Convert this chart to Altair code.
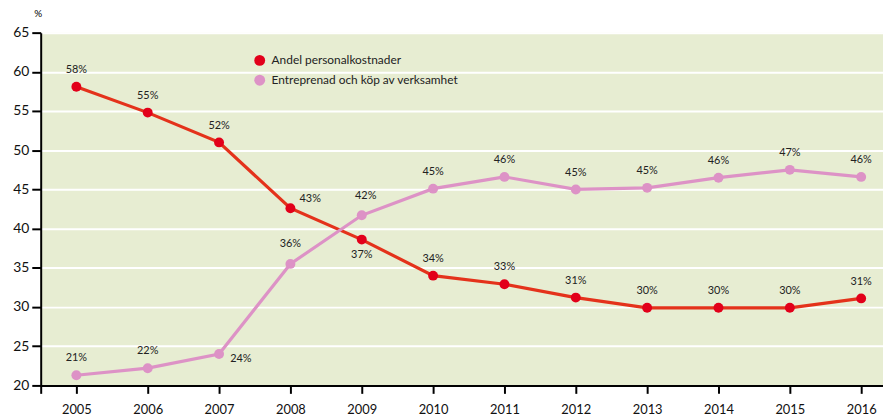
import altair as alt
import pandas as pd

years = [2005, 2006, 2007, 2008, 2009, 2010, 2011, 2012, 2013, 2014, 2015, 2016]
personal = [58.1, 54.8, 51.0, 42.6, 38.6, 34.0, 32.9, 31.2, 29.9, 29.9, 29.9, 31.1]
entreprenad = [21.3, 22.2, 24.0, 35.5, 41.7, 45.1, 46.6, 45.0, 45.2, 46.5, 47.5, 46.6]
personal_labels = ["58%", "55%", "52%", "43%", "37%", "34%", "33%", "31%", "30%", "30%", "30%", "31%"]
entreprenad_labels = ["21%", "22%", "24%", "36%", "42%", "45%", "46%", "45%", "45%", "46%", "47%", "46%"]
series_names = ["Andel personalkostnader", "Entreprenad och köp av verksamhet"]
x_tick_values = [2004.5, 2005.0, 2006.0, 2007.0, 2008.0, 2009.0, 2010.0, 2011.0, 2012.0, 2013.0, 2014.0, 2015.0, 2016.0]
y_tick_values = [20, 25, 30, 35, 40, 45, 50, 55, 60, 65]

rows = []
for i, y in enumerate(years):
    rows.append({"year": y, "value": personal[i], "label": personal_labels[i], "series": series_names[0], "key": f"p{y}"})
    rows.append({"year": y, "value": entreprenad[i], "label": entreprenad_labels[i], "series": series_names[1], "key": f"e{y}"})
df = pd.DataFrame(rows)

RED_LINE = "#e4321b"
RED_DOT = "#e2001a"
PINK = "#dd92c6"

x_axis = alt.Axis(values=x_tick_values,
                  labelExpr="datum.value == 2004.5 ? '' : format(datum.value, 'd')",
                  labelOverlap=False, labelBound=False, labelFlush=False,
                  title=None, grid=False, domainColor="black", domainWidth=2,
                  tickColor="black", tickWidth=2, tickSize=8,
                  labelFontSize=13, labelColor="#111", labelPadding=10,
                  labelFont="Lato")
y_axis = alt.Axis(values=y_tick_values, title="%", titleAngle=0,
                  labelOverlap=False,
                  titleX=-3, titleY=-14, titleFontSize=10, titleFontWeight="normal",
                  titleFont="Lato", titleAlign="center",
                  grid=True, gridColor="white", gridWidth=2,
                  domainColor="black", domainWidth=2,
                  tickColor="black", tickWidth=2, tickSize=9,
                  labelFontSize=14, labelColor="#111", labelPadding=3,
                  labelFont="Lato")
x_scale = alt.Scale(domain=[2004.5, 2016.306], nice=False, zero=False)
y_scale = alt.Scale(domain=[20, 65], nice=False, zero=False)


def xe():
    return alt.X("year:Q", scale=x_scale, axis=x_axis)


def ye():
    return alt.Y("value:Q", scale=y_scale, axis=y_axis)


base = alt.Chart(df)

lines = base.mark_line(strokeWidth=3.2).encode(
    x=xe(), y=ye(),
    color=alt.Color("series:N", scale=alt.Scale(domain=series_names, range=[RED_LINE, PINK]), legend=None),
    detail="series:N",
)

points = base.mark_circle(size=100, opacity=1).transform_calculate(
    Serie="datum.series"
).encode(
    x=xe(), y=ye(),
    fill=alt.Fill("Serie:N", scale=alt.Scale(domain=series_names, range=[RED_DOT, PINK]),
                  legend=alt.Legend(title=None, orient="none", legendX=215, legendY=22,
                                    symbolType="circle", symbolSize=120, symbolStrokeWidth=0,
                                    labelFontSize=12, labelFont="Lato", labelColor="#222",
                                    labelLimit=0, rowPadding=8, labelOffset=6)),
)

special = {"p2008": (20, -9), "p2009": (0, 16), "e2007": (22, 5), "e2009": (4, -19), "e2008": (0, -20)}

text_layers = []
normal_keys = list(special.keys())
text_layers.append(
    base.mark_text(fontSize=11, font="Lato", color="#222", dy=-17).encode(
        x=xe(), y=ye(), text="label:N"
    ).transform_filter(~alt.FieldOneOfPredicate(field="key", oneOf=normal_keys))
)
for k, (dx, dy) in special.items():
    text_layers.append(
        base.mark_text(fontSize=11, font="Lato", color="#222", dx=dx, dy=dy).encode(
            x=xe(), y=ye(), text="label:N"
        ).transform_filter(alt.datum.key == k)
    )

chart = alt.layer(lines, points, *text_layers).properties(
    width=850, height=356,
    autosize=alt.AutoSizeParams(type="none"),
    padding={"left": 33, "top": 23, "right": 0, "bottom": 30},
    background="white",
    view=alt.ViewBackground(fill="#e7edd2", strokeWidth=0),
).resolve_scale(color="independent", fill="independent")

chart.save("out.html", embed_options={"renderer": "svg", "actions": False})
